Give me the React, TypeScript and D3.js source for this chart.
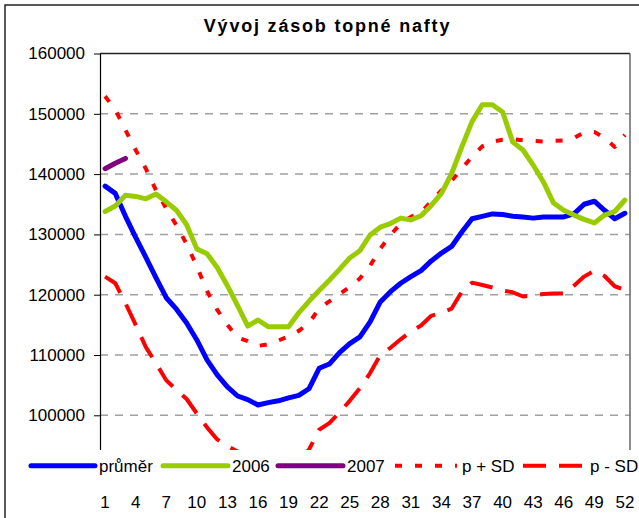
import { useEffect, useRef } from 'react';
import * as d3 from 'd3';

// week numbers 1..52
const weeks = [
  1, 2, 3, 4, 5, 6, 7, 8, 9, 10, 11, 12, 13, 14, 15, 16, 17, 18, 19, 20, 21, 22, 23, 24, 25, 26,
  27, 28, 29, 30, 31, 32, 33, 34, 35, 36, 37, 38, 39, 40, 41, 42, 43, 44, 45, 46, 47, 48, 49, 50, 51, 52,
];

const xTickLabels = [1, 4, 7, 10, 13, 16, 19, 22, 25, 28, 31, 34, 37, 40, 43, 46, 49, 52];
const yTicks = [100000, 110000, 120000, 130000, 140000, 150000, 160000];

const prumer = [
  138000, 136800, 133000, 129500, 126200, 122800, 119500, 117600, 115300, 112500, 109200, 106700, 104700,
  103200, 102600, 101700, 102100, 102400, 102900, 103300, 104400, 107800, 108500, 110400, 111900, 113000,
  115500, 118800, 120500, 121900, 123000, 124000, 125600, 126900, 128000, 130400, 132600, 133000, 133400,
  133300, 133000, 132900, 132700, 132900, 132900, 132900, 133400, 135000, 135500, 134000, 132600, 133500,
];

const rok2006 = [
  133800, 134700, 136500, 136300, 135900, 136700, 135400, 134000, 131600, 127600, 126800, 124500, 121500,
  118200, 114800, 115800, 114700, 114700, 114700, 117000, 118900, 120700, 122400, 124200, 126100, 127300,
  129900, 131200, 131800, 132700, 132400, 133100, 134800, 136800, 140100, 144500, 148700, 151500, 151500,
  150300, 145300, 144000, 141500, 138700, 135200, 134000, 133200, 132500, 131900, 133200, 133800, 135700,
];

const rok2007 = [140900, 141800, 142600];

const plusSD = [
  152900, 150700, 147300, 144000, 140900, 137300, 134300, 131500, 128400, 124700, 120600, 117500, 115000,
  112900, 112300, 111500, 111800, 112400, 113100, 114000, 115300, 117700, 118900, 120100, 121300, 122700,
  124800, 127600, 129900, 131800, 132900, 133600, 135500, 137300, 138900, 140900, 142900, 144600, 145400,
  145700, 145800, 145600, 145500, 145400, 145500, 145600, 146000, 146900, 147000, 146000, 144500, 146500,
];

const minusSD = [
  123000, 121900, 118600, 115000, 111300, 108600, 105800, 104200, 102700, 100300, 98000, 96000, 94900,
  94000, 93000, 92000, 92300, 92400, 92700, 92800, 94300, 97600, 98700, 100500, 102400, 104500,
  107000, 110000, 111200, 112600, 113900, 114900, 116500, 117000, 117700, 120500, 122000, 121600, 121200,
  120700, 120400, 119700, 119900, 120100, 120200, 120200, 121500, 123000, 124000, 123100, 121400, 120800,
];

const series = [
  { name: 'průměr', values: prumer, color: '#0000ff', width: 5, dash: null as string | null },
  { name: '2006', values: rok2006, color: '#99cc00', width: 5, dash: null },
  { name: '2007', values: rok2007, color: '#800080', width: 5, dash: null },
  { name: 'p + SD', values: plusSD, color: '#ff0000', width: 4, dash: '7,13' },
  { name: 'p - SD', values: minusSD, color: '#ff0000', width: 4, dash: '23,13' },
];

export default function App() {
  const svgRef = useRef<SVGSVGElement>(null);

  useEffect(() => {
    if (!svgRef.current) return;
    d3.select(svgRef.current).selectAll('*').remove();

    const W = 639;
    const H = 518;
    const font = 'Arial, "Liberation Sans", sans-serif';
    const left = 100;
    const right = 630;
    const top = 53.5;

    const svg = d3.select(svgRef.current).attr('width', W).attr('height', H);

    svg.append('rect').attr('width', W).attr('height', H).attr('fill', '#fff');

    const x = d3.scaleBand<number>().domain(weeks).range([left, right]);
    const xc = (w: number) => (x(w) ?? 0) + x.bandwidth() / 2;
    const y = d3.scaleLinear().domain([90000, 160000]).range([475.6, top]);

    // gridlines
    svg.append('g')
      .selectAll('line')
      .data(yTicks.filter(t => t < 160000))
      .enter()
      .append('line')
      .attr('x1', left)
      .attr('x2', right)
      .attr('y1', d => y(d))
      .attr('y2', d => y(d))
      .style('stroke', '#a0a0a0')
      .style('stroke-width', 1.5)
      .style('stroke-dasharray', '8,7');

    // plot border (top + right)
    svg.append('line')
      .attr('x1', left).attr('x2', right).attr('y1', top).attr('y2', top)
      .style('stroke', '#222').style('stroke-width', 1.5);
    svg.append('line')
      .attr('x1', right).attr('x2', right).attr('y1', top).attr('y2', 450)
      .style('stroke', '#666').style('stroke-width', 1.5);

    // y axis
    const yAxis = svg.append('g')
      .attr('transform', `translate(${left},0)`)
      .call(d3.axisLeft(y).tickValues(yTicks).tickFormat(d => String(d)).tickSize(6).tickSizeOuter(0).tickPadding(9));
    yAxis.select('.domain').attr('stroke', '#000').attr('stroke-width', 1.2);
    yAxis.selectAll('.tick line').attr('stroke', '#000');
    yAxis.selectAll('text')
      .style('font-family', font)
      .style('font-size', '17px')
      .attr('fill', '#000');

    // series lines
    const lineGen = d3.line<number>()
      .x((_, i) => xc(weeks[i]))
      .y(d => y(d));

    const order = [3, 4, 0, 1, 2];
    order.forEach(k => {
      const s = series[k];
      svg.append('path')
        .datum(s.values)
        .attr('d', lineGen)
        .attr('fill', 'none')
        .attr('stroke', s.color)
        .attr('stroke-width', s.width)
        .attr('stroke-linejoin', 'round')
        .attr('stroke-linecap', s.dash ? 'butt' : 'round')
        .attr('stroke-dasharray', s.dash ?? null);
    });

    // legend box hides the bottom of the plot
    svg.append('rect')
      .attr('x', 20).attr('y', 450).attr('width', W - 20).attr('height', 34)
      .attr('fill', '#fff');

    const legendItems = [
      { x1: 31, x2: 95, tx: 99 },
      { x1: 163, x2: 228, tx: 232 },
      { x1: 278, x2: 343, tx: 347 },
      { x1: 395, x2: 457, tx: 462 },
      { x1: 523, x2: 588, tx: 590 },
    ];
    const ly = 465.7;
    legendItems.forEach((li, i) => {
      const s = series[i];
      svg.append('line')
        .attr('x1', li.x1).attr('x2', li.x2).attr('y1', ly).attr('y2', ly)
        .attr('stroke', s.color)
        .attr('stroke-width', s.width)
        .attr('stroke-linecap', s.dash ? 'butt' : 'round')
        .attr('stroke-dasharray', s.dash ?? null);
      svg.append('text')
        .attr('x', li.tx).attr('y', ly + 6)
        .text(s.name)
        .style('font-family', font)
        .style('font-size', '17px')
        .attr('fill', '#000');
    });

    // x tick labels
    svg.append('g')
      .selectAll('text')
      .data(xTickLabels)
      .enter()
      .append('text')
      .attr('x', d => xc(d))
      .attr('y', 507.7)
      .attr('text-anchor', 'middle')
      .text(d => String(d))
      .style('font-family', font)
      .style('font-size', '17px')
      .attr('fill', '#000');

    // title
    svg.append('text')
      .attr('x', 327.5)
      .attr('y', 31.7)
      .attr('text-anchor', 'middle')
      .text('Vývoj zásob topné nafty')
      .style('font-family', font)
      .style('font-size', '18px')
      .style('font-weight', 'bold')
      .style('letter-spacing', '1.8px')
      .attr('fill', '#000');

    // outer chart border
    svg.append('rect')
      .attr('x', 5).attr('y', 5).attr('width', 700).attr('height', 600)
      .attr('fill', 'none')
      .attr('stroke', '#222')
      .attr('stroke-width', 1.5);
  }, []);

  return (
    <div style={{ position: 'fixed', left: 0, top: 0 }}>
      <svg ref={svgRef} style={{ display: 'block' }} />
    </div>
  );
}
